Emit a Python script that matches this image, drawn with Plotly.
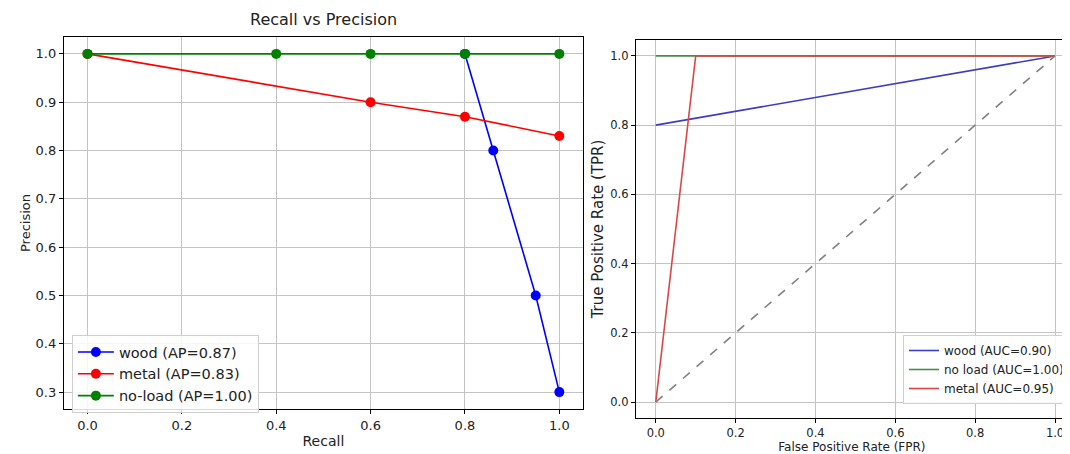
import plotly.graph_objects as go

# ---- Recall vs Precision data ----
wood_recall = [0.8, 0.86, 0.95, 1.0]
wood_precision = [1.0, 0.8, 0.5, 0.3]
metal_recall = [0.0, 0.6, 0.8, 1.0]
metal_precision = [1.0, 0.9, 0.87, 0.83]
noload_recall = [0.0, 0.4, 0.6, 0.8, 1.0]
noload_precision = [1.0, 1.0, 1.0, 1.0, 1.0]
pr_names = ["wood (AP=0.87)", "metal (AP=0.83)", "no-load (AP=1.00)"]

# ---- ROC data ----
wood_fpr = [0.0, 1.0]
wood_tpr = [0.8, 1.0]
noload_fpr = [0.0, 1.0]
noload_tpr = [1.0, 1.0]
metal_fpr = [0.0, 0.1, 1.0]
metal_tpr = [0.0, 1.0, 1.0]
diag = [0.0, 1.0]
roc_names = ["wood (AUC=0.90)", "no load (AUC=1.00)", "metal (AUC=0.95)"]

left_ticks_x = [0.0, 0.2, 0.4, 0.6, 0.8, 1.0]
left_ticks_y = [0.3, 0.4, 0.5, 0.6, 0.7, 0.8, 0.9, 1.0]
right_ticks = [0.0, 0.2, 0.4, 0.6, 0.8, 1.0]

OFF = 8  # page body margin
W, H = 1070 - OFF, 454 - OFF
FONT = "DejaVu Sans"

fig = go.Figure()

pr_series = [
    (wood_recall, wood_precision, "#0000ff", pr_names[0]),
    (metal_recall, metal_precision, "#ff0000", pr_names[1]),
    (noload_recall, noload_precision, "#008000", pr_names[2]),
]
for xs, ys, c, n in pr_series:
    fig.add_trace(go.Scatter(x=xs, y=ys, mode="lines+markers", name=n,
                             line=dict(color=c, width=1.6),
                             marker=dict(color=c, size=10),
                             xaxis="x", yaxis="y", legend="legend"))

roc_series = [
    (wood_fpr, wood_tpr, "#3c3cc4", roc_names[0]),
    (noload_fpr, noload_tpr, "#4a8c4a", roc_names[1]),
    (metal_fpr, metal_tpr, "#dc4646", roc_names[2]),
]
for xs, ys, c, n in roc_series:
    fig.add_trace(go.Scatter(x=xs, y=ys, mode="lines", name=n,
                             line=dict(color=c, width=1.6),
                             xaxis="x2", yaxis="y2", legend="legend2"))
fig.add_trace(go.Scatter(x=diag, y=diag, mode="lines", showlegend=False,
                         line=dict(color="#808080", width=1.6, dash="dash"),
                         xaxis="x2", yaxis="y2"))

def px_x(p):
    return (p - OFF) / W

def px_y(p):
    return 1 - (p - OFF) / H

axis_common = dict(showline=True, mirror=True, linecolor="black", linewidth=1,
                   ticks="outside", ticklen=4, tickcolor="black",
                   showgrid=True, gridcolor="#c4c4c4", gridwidth=1,
                   zeroline=False)

fig.update_layout(
    width=W, height=H,
    margin=dict(l=0, r=0, t=0, b=0),
    paper_bgcolor="white", plot_bgcolor="white",
    font=dict(family=FONT, color="#222222"),
    xaxis=dict(domain=[px_x(64), px_x(584)], range=[-0.05, 1.05],
               tickvals=left_ticks_x, tickformat=".1f",
               tickfont=dict(size=13),
               title=dict(text="Recall", font=dict(size=14), standoff=4),
               anchor="y", **axis_common),
    yaxis=dict(domain=[px_y(409), px_y(37)], range=[0.265, 1.035],
               tickvals=left_ticks_y, tickformat=".1f",
               tickfont=dict(size=13),
               title=dict(text="Precision", font=dict(size=13), standoff=2),
               anchor="x", **axis_common),
    xaxis2=dict(domain=[px_x(637), 1.0], range=[-0.05, 1.0325],
                tickvals=right_ticks, tickformat=".1f",
                tickfont=dict(size=11.5),
                title=dict(text="False Positive Rate (FPR)", font=dict(size=12), standoff=6),
                anchor="y2", **axis_common),
    yaxis2=dict(domain=[px_y(418), px_y(40)], range=[-0.046, 1.046],
                tickvals=right_ticks, tickformat=".1f",
                tickfont=dict(size=11.5),
                title=dict(text="True Positive Rate (TPR)", font=dict(size=15), standoff=2),
                anchor="x2", **axis_common),
    legend=dict(x=px_x(72), y=px_y(335), xanchor="left", yanchor="top",
                bgcolor="rgba(255,255,255,0.85)", bordercolor="#d0d0d0", borderwidth=1,
                font=dict(size=14.5, color="#222222"), tracegroupgap=0,
                itemwidth=36),
    legend2=dict(x=px_x(905), y=px_y(335), xanchor="left", yanchor="top",
                 bgcolor="rgba(255,255,255,0.85)", bordercolor="#d0d0d0", borderwidth=1,
                 font=dict(size=12, color="#222222"), tracegroupgap=0,
                 itemwidth=30),
    annotations=[dict(text="Recall vs Precision", x=px_x(324), y=px_y(20),
                      xref="paper", yref="paper", showarrow=False,
                      xanchor="center", yanchor="middle",
                      font=dict(size=16, color="#222222", family=FONT))],
)

fig.write_html("out.html")
